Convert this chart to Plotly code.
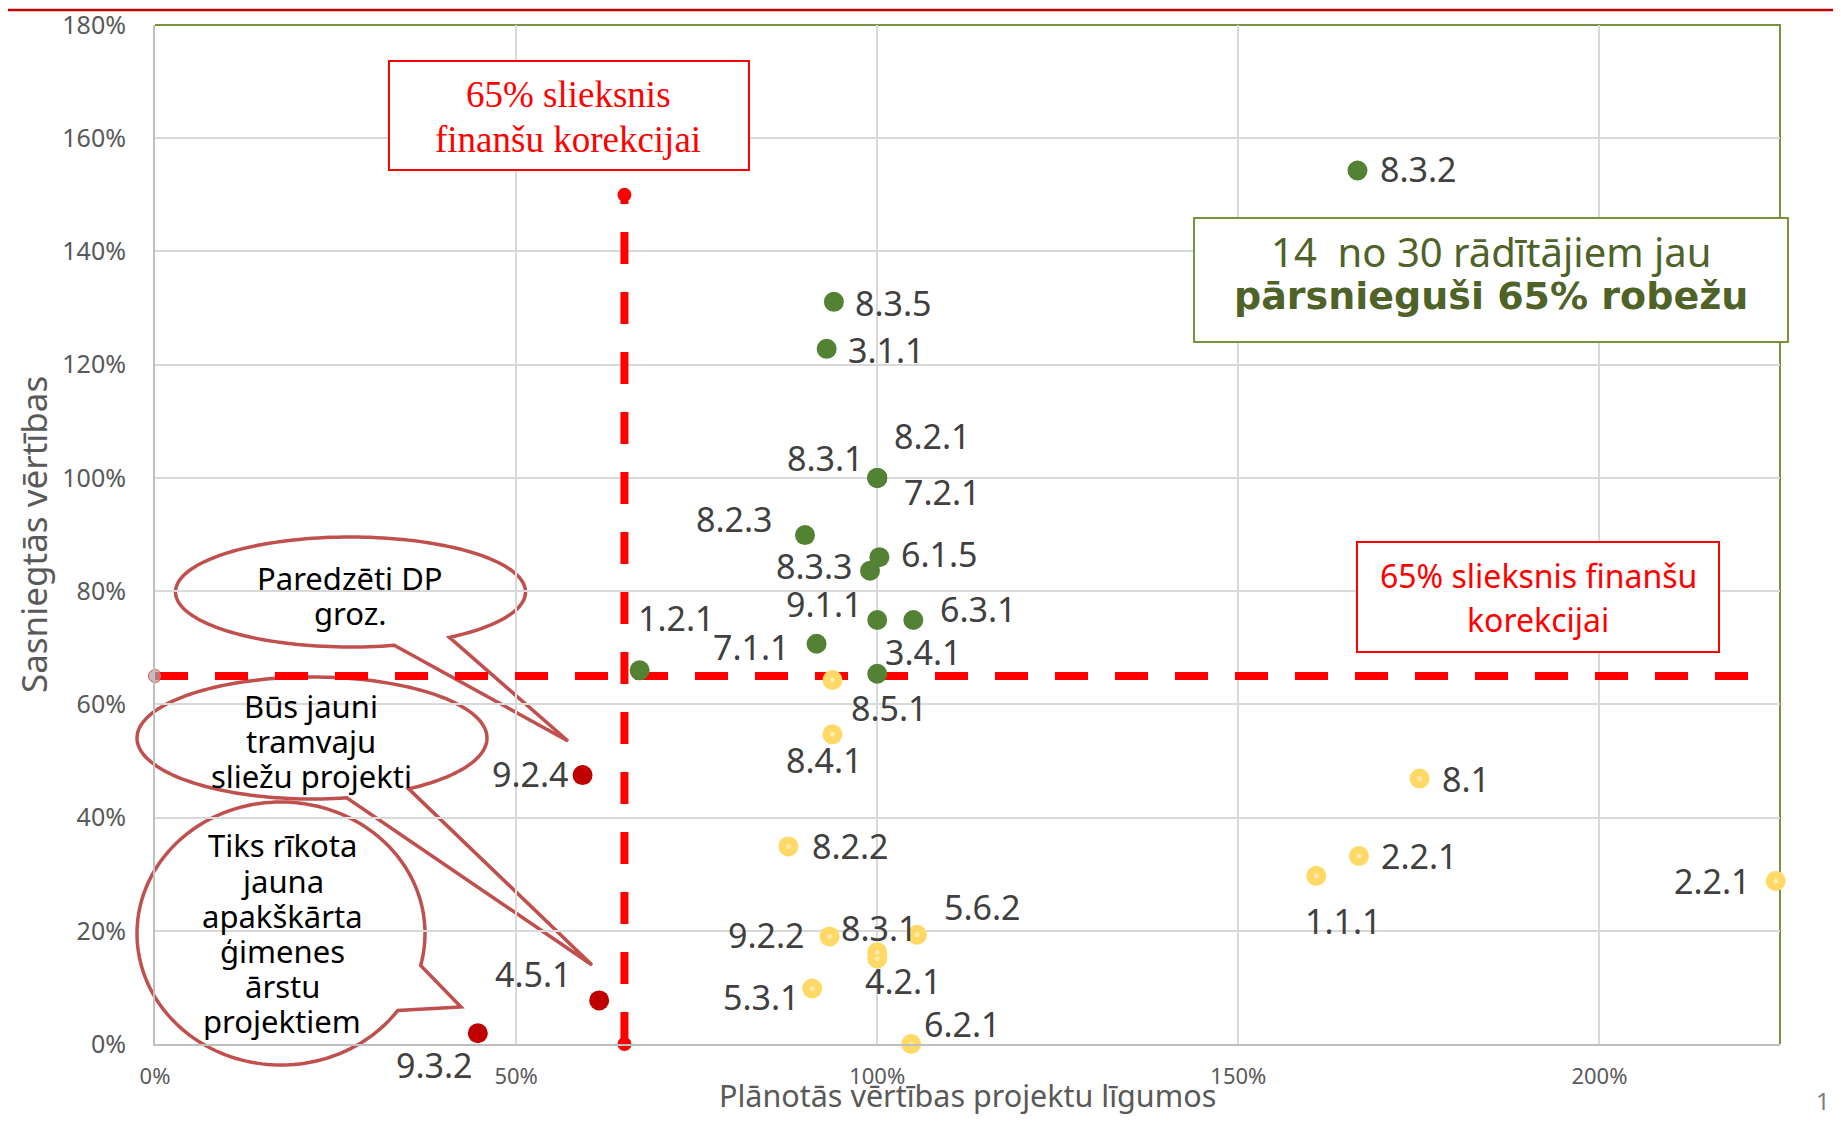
import numpy as np
import plotly.graph_objects as go

# ---------------- data ----------------
green_labels = ["8.3.2", "8.3.5", "3.1.1", "8.3.1", "8.2.1", "7.2.1", "8.2.3",
                "6.1.5", "8.3.3", "9.1.1", "6.3.1", "7.1.1", "1.2.1", "3.4.1"]
green_x = [1.665, 0.940, 0.930, 1.000, 1.000, 1.000, 0.900,
           1.003, 0.990, 1.000, 1.050, 0.916, 0.671, 1.000]
green_y = [1.543, 1.311, 1.228, 1.000, 1.000, 1.000, 0.899,
           0.860, 0.836, 0.749, 0.749, 0.707, 0.660, 0.654]

yellow_labels = ["8.5.1", "8.4.1", "8.2.2", "9.2.2", "5.6.2", "8.3.1", "4.2.1",
                 "5.3.1", "6.2.1", "8.1", "2.2.1", "1.1.1", "2.2.1"]
yellow_x = [0.938, 0.938, 0.877, 0.934, 1.055, 1.000, 1.000,
            0.910, 1.047, 1.751, 1.667, 1.608, 2.244]
yellow_y = [0.643, 0.547, 0.349, 0.190, 0.193, 0.162, 0.151,
            0.098, 0.000, 0.469, 0.332, 0.297, 0.288]

red_labels = ["9.2.4", "4.5.1", "9.3.2"]
red_x = [0.592, 0.615, 0.447]
red_y = [0.475, 0.077, 0.019]

threshold = 0.65
h_line_x = [0.0, 2.22]
v_line_y = [0.0, 1.50]

x_ticks = [0, 0.5, 1.0, 1.5, 2.0]
y_ticks = [0, 0.2, 0.4, 0.6, 0.8, 1.0, 1.2, 1.4, 1.6, 1.8]

# label offsets (px) : (xshift, yshift)
green_off = [(61, 1), (60, -1), (60, -1), (-52, 20), (55, 42), (65, -14), (-71, 16),
             (60, 3), (-56, 5), (-53, 16), (65, 11), (-65, -3), (37, 52), (46, 22)]
yellow_off = [(57, -28), (-8, -26), (62, 0), (-63, 1), (66, 28), (2, 24), (26, -22),
              (-51, -8), (51, 20), (46, -1), (61, 0), (27, -45), (-63, 0)]
red_off = [(-52, 1), (-66, 26), (-43, -32)]

# ---------------- geometry helpers ----------------
WIN_W, WIN_H = 1841, 1124
PAGE_MARGIN = 8                      # default body margin of the page
W, H = WIN_W - 2 * PAGE_MARGIN, WIN_H - 2 * PAGE_MARGIN
# plot area in window pixels
L, R, T, B = 155, 1780, 25, 1044


def P(px, py):
    return ((px - L) / (R - L), (B - py) / (B - T))


def callout_path(cx, cy, rx, ry, b1, b2, tip, n=160):
    a1 = np.arctan2((b1[1] - cy) / ry, (b1[0] - cx) / rx)
    a2 = np.arctan2((b2[1] - cy) / ry, (b2[0] - cx) / rx)
    d = (a2 - a1) % (2 * np.pi)
    if d < np.pi:
        ang = np.linspace(a1, a1 - (2 * np.pi - d), n)
    else:
        ang = np.linspace(a1, a1 + d, n)
    pts = [(cx + rx * np.cos(a), cy + ry * np.sin(a)) for a in ang]
    pts.append(tip)
    s = ""
    for i, (px, py) in enumerate(pts):
        x, y = P(px, py)
        s += ("M" if i == 0 else "L") + f"{x:.5f},{y:.5f} "
    return s + "Z"


GREEN = "#548235"
YELLOW = "#FFD966"
DRED = "#C00000"
LABEL = "#404040"
FONT = "Noto Sans"

fig = go.Figure()

# threshold lines
fig.add_trace(go.Scatter(
    x=h_line_x, y=[threshold, threshold], mode="lines+markers",
    line=dict(color="#FF0000", width=8, dash="33px,27px"),
    marker=dict(color="#A6A6A6", size=[13, 0]), cliponaxis=False,
    hoverinfo="skip", showlegend=False))
fig.add_trace(go.Scatter(
    x=[threshold, threshold], y=v_line_y, mode="lines+markers",
    line=dict(color="#FF0000", width=8, dash="32px,28px"),
    marker=dict(color="#FF0000", size=14), cliponaxis=False,
    hoverinfo="skip", showlegend=False))

# points
fig.add_trace(go.Scatter(x=green_x, y=green_y, mode="markers", text=green_labels,
                         marker=dict(color=GREEN, size=20), cliponaxis=False,
                         showlegend=False))
fig.add_trace(go.Scatter(x=yellow_x, y=yellow_y, mode="markers", text=yellow_labels,
                         marker=dict(color=YELLOW, size=20), cliponaxis=False,
                         showlegend=False))
fig.add_trace(go.Scatter(x=yellow_x, y=yellow_y, mode="markers",
                         marker=dict(color="#FFEBA8", size=5), cliponaxis=False,
                         hoverinfo="skip", showlegend=False))
fig.add_trace(go.Scatter(x=red_x, y=red_y, mode="markers", text=red_labels,
                         marker=dict(color=DRED, size=20), cliponaxis=False,
                         showlegend=False))

ann = []
for labs, xs, ys, offs in [(green_labels, green_x, green_y, green_off),
                           (yellow_labels, yellow_x, yellow_y, yellow_off),
                           (red_labels, red_x, red_y, red_off)]:
    for lab, x, y, (dx, dy) in zip(labs, xs, ys, offs):
        ann.append(dict(x=x, y=y, xref="x", yref="y", text=lab, showarrow=False,
                        xshift=dx, yshift=dy, xanchor="center", yanchor="middle",
                        font=dict(family=FONT, size=34, color=LABEL)))

shapes = []
# green top / right border
x0, y0 = P(L, T)
x1, y1 = P(R, B)
shapes.append(dict(type="path", xref="paper", yref="paper",
                   path=f"M{x0},{y0} L{x1},{y0} L{x1},{y1}",
                   line=dict(color="#77933C", width=2), layer="between"))
# page top red line
a, ya = P(0, 10)
b, _ = P(WIN_W, 10)
shapes.append(dict(type="line", xref="paper", yref="paper", x0=a, x1=b, y0=ya, y1=ya,
                   line=dict(color=DRED, width=2.5), layer="above"))

# callouts
CO = "#C0504D"
callouts = [
    (350.5, 592, 175, 55, (394, 645), (453, 639), (568, 741)),
    (312, 738, 175, 61, (348, 800), (409, 789), (592, 965)),
    (281, 933.5, 144, 131.5, (423, 966), (397, 1010), (461, 1007)),
]
for c in callouts:
    shapes.append(dict(type="path", xref="paper", yref="paper",
                       path=callout_path(*c), fillcolor="white",
                       line=dict(color=CO, width=3.5), layer="between"))


def box(px0, py0, px1, py1, color, width=2):
    bx0, by0 = P(px0, py0)
    bx1, by1 = P(px1, py1)
    return dict(type="rect", xref="paper", yref="paper", x0=bx0, x1=bx1, y0=by1, y1=by0,
                fillcolor="white", line=dict(color=color, width=width), layer="above")


shapes.append(box(389, 61, 749, 170, "#FF0000"))
shapes.append(box(1357, 542, 1719, 652, "#FF0000"))
shapes.append(box(1194, 218, 1788, 342, "#77933C"))


def txt(px, py, text, size, color, family=FONT, **kw):
    x, y = P(px, py)
    d = dict(x=x, y=y, xref="paper", yref="paper", text=text, showarrow=False,
             xanchor="center", yanchor="middle",
             font=dict(family=family, size=size, color=color))
    d.update(kw)
    return d


# callout texts
CT = 31
for py, t in [(578, "Paredzēti DP"), (613, "groz.")]:
    ann.append(txt(350, py, t, CT, "black"))
for py, t in [(706, "Būs jauni"), (741, "tramvaju"), (776, "sliežu projekti")]:
    ann.append(txt(311, py, t, CT, "black"))
for py, t in [(845, "Tiks rīkota"), (881, "jauna"), (916, "apakškārta"),
              (951, "ģimenes"), (986, "ārstu"), (1021, "projektiem")]:
    ann.append(txt(282, py, t, CT, "black"))

# boxes texts
ann.append(txt(568, 95, "65% slieksnis", 37, "#FF0000", family="Liberation Serif"))
ann.append(txt(568, 139, "finanšu korekcijai", 37, "#FF0000", family="Liberation Serif"))
ann.append(txt(1538, 575, "65% slieksnis finanšu", 32, "#FF0000"))
ann.append(txt(1538, 619, "korekcijai", 32, "#FF0000"))
ann.append(txt(1491, 251, "14\u00a0\u00a0no 30 rādītājiem jau", 40, "#4F6228"))
ann.append(txt(1491, 296, "<b>pārsnieguši 65% robežu</b>", 38, "#4F6228",
               family="DejaVu Sans"))

# axis titles
ann.append(txt(967, 1095, "Plānotās vērtības projektu līgumos", 30.5, "#595959"))
ann.append(txt(33, 535, "Sasniegtās vērtības", 35, "#595959", textangle=-90))
# slide number
ann.append(txt(1832, 1100, "1", 24, "#7F7F7F", xanchor="right"))

fig.update_layout(
    width=W, height=H,
    margin=dict(l=L - PAGE_MARGIN, r=(WIN_W - PAGE_MARGIN) - R,
                t=T - PAGE_MARGIN, b=(WIN_H - PAGE_MARGIN) - B, pad=0),
    paper_bgcolor="white", plot_bgcolor="white",
    font=dict(family=FONT),
    xaxis=dict(range=[0, 2.25], tickvals=x_ticks, tickformat=".0%",
               showgrid=True, gridcolor="#D9D9D9", gridwidth=1.5, zeroline=False,
               showline=True, linecolor="#BFBFBF", linewidth=2, automargin=False,
               tickfont=dict(size=22, color="#595959"), ticklabelstandoff=12,
               ticklabeloverflow="allow"),
    yaxis=dict(range=[0, 1.8], tickvals=y_ticks, tickformat=".0%",
               showgrid=True, gridcolor="#D9D9D9", gridwidth=1.5, zeroline=False,
               showline=True, linecolor="#BFBFBF", linewidth=2, automargin=False,
               tickfont=dict(size=25, color="#595959"), ticklabelstandoff=22,
               ticklabeloverflow="allow"),
    shapes=shapes, annotations=ann, showlegend=False,
)

fig.write_html("out.html")
